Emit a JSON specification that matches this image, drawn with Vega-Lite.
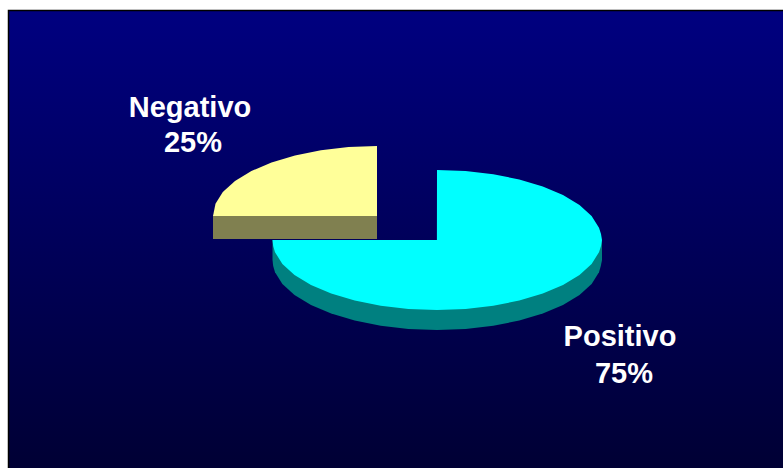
{
"$schema":"https://vega.github.io/schema/vega-lite/v6.json",
"width":783,"height":468,"padding":0,"autosize":{"type":"none"},
"background":"white",
"config":{"view":{"stroke":null}},
"layer":[
{"data":{"values":[{"x":8.5,"x2":790,"y":10.5,"y2":475}]},
 "mark":{"type":"rect","clip":true,"stroke":"#000000","strokeWidth":1.5,"fill":{"x1":0,"y1":0,"x2":0,"y2":1,"gradient":"linear","stops":[{"offset":0,"color":"#000080"},{"offset":1,"color":"#000033"}]}},
 "encoding":{
  "x":{"field":"x","type":"quantitative","scale":{"domain":[0,783]},"axis":null},
  "x2":{"field":"x2"},
  "y":{"field":"y","type":"quantitative","scale":{"domain":[468,0]},"axis":null},
  "y2":{"field":"y2"}}},
{"data":{"values":[
 {"slice":"Positivo lado","x":272.5,"t":240,"b":260},
 {"slice":"Positivo lado","x":273.2,"t":240,"b":266.1},
 {"slice":"Positivo lado","x":275,"t":240,"b":272.2},
 {"slice":"Positivo lado","x":282.4,"t":240,"b":283.9},
 {"slice":"Positivo lado","x":294.5,"t":240,"b":295},
 {"slice":"Positivo lado","x":311,"t":240,"b":305},
 {"slice":"Positivo lado","x":331.2,"t":240,"b":313.6},
 {"slice":"Positivo lado","x":354.7,"t":240,"b":320.6},
 {"slice":"Positivo lado","x":380.7,"t":240,"b":325.8},
 {"slice":"Positivo lado","x":408.4,"t":240,"b":329},
 {"slice":"Positivo lado","x":437,"t":240,"b":330},
 {"slice":"Positivo lado","x":465.6,"t":240,"b":329},
 {"slice":"Positivo lado","x":493.3,"t":240,"b":325.8},
 {"slice":"Positivo lado","x":519.3,"t":240,"b":320.6},
 {"slice":"Positivo lado","x":542.8,"t":240,"b":313.6},
 {"slice":"Positivo lado","x":563,"t":240,"b":305},
 {"slice":"Positivo lado","x":579.5,"t":240,"b":295},
 {"slice":"Positivo lado","x":591.6,"t":240,"b":283.9},
 {"slice":"Positivo lado","x":599,"t":240,"b":272.2},
 {"slice":"Positivo lado","x":600.8,"t":240,"b":266.1},
 {"slice":"Positivo lado","x":602,"t":240,"b":260},

 {"slice":"Positivo","x":272.5,"t":240,"b":240},
 {"slice":"Positivo","x":273.2,"t":240,"b":246.1},
 {"slice":"Positivo","x":275,"t":240,"b":252.2},
 {"slice":"Positivo","x":282.4,"t":240,"b":263.9},
 {"slice":"Positivo","x":294.5,"t":240,"b":275},
 {"slice":"Positivo","x":311,"t":240,"b":285},
 {"slice":"Positivo","x":331.2,"t":240,"b":293.6},
 {"slice":"Positivo","x":354.7,"t":240,"b":300.6},
 {"slice":"Positivo","x":380.7,"t":240,"b":305.8},
 {"slice":"Positivo","x":408.4,"t":240,"b":309},
 {"slice":"Positivo","x":436.9,"t":240,"b":310},
 {"slice":"Positivo","x":437,"t":170,"b":310},
 {"slice":"Positivo","x":465.6,"t":171,"b":309},
 {"slice":"Positivo","x":493.3,"t":174.2,"b":305.8},
 {"slice":"Positivo","x":519.3,"t":179.4,"b":300.6},
 {"slice":"Positivo","x":542.8,"t":186.4,"b":293.6},
 {"slice":"Positivo","x":563,"t":195,"b":285},
 {"slice":"Positivo","x":579.5,"t":205,"b":275},
 {"slice":"Positivo","x":591.6,"t":216.1,"b":263.9},
 {"slice":"Positivo","x":599,"t":227.8,"b":252.2},
 {"slice":"Positivo","x":601,"t":233.9,"b":246.1},
 {"slice":"Positivo","x":602,"t":240,"b":240},

 {"slice":"Negativo lado","x":213,"t":216,"b":239},
 {"slice":"Negativo lado","x":377,"t":216,"b":239},

 {"slice":"Negativo","x":213,"t":216,"b":216},
 {"slice":"Negativo","x":215.5,"t":203.8,"b":216},
 {"slice":"Negativo","x":222.8,"t":192.1,"b":216},
 {"slice":"Negativo","x":235,"t":181,"b":216},
 {"slice":"Negativo","x":251.4,"t":171,"b":216},
 {"slice":"Negativo","x":271.5,"t":162.4,"b":216},
 {"slice":"Negativo","x":295,"t":155.4,"b":216},
 {"slice":"Negativo","x":320.9,"t":150.2,"b":216},
 {"slice":"Negativo","x":348.5,"t":147,"b":216},
 {"slice":"Negativo","x":377,"t":146,"b":216}
]},
 "mark":{"type":"area","orient":"vertical"},
 "encoding":{
  "x":{"field":"x","type":"quantitative","scale":{"domain":[0,783]},"axis":null},
  "y":{"field":"t","type":"quantitative","stack":null,"scale":{"domain":[468,0]},"axis":null},
  "y2":{"field":"b"},
  "color":{"field":"slice","type":"nominal","legend":null,
   "scale":{"domain":["Positivo lado","Positivo","Negativo lado","Negativo"],"range":["#008080","#00FFFF","#808050","#FFFF99"]}}}},
{"data":{"values":[
 {"label":"Negativo","x":190,"y":108},
 {"label":"25%","x":193,"y":143},
 {"label":"Positivo","x":620,"y":337},
 {"label":"75%","x":624,"y":374}
]},
 "mark":{"type":"text","font":"Liberation Sans","fontWeight":"bold","fontSize":29,"color":"#FFFFFF","align":"center","baseline":"middle"},
 "encoding":{
  "x":{"field":"x","type":"quantitative","scale":{"domain":[0,783]},"axis":null},
  "y":{"field":"y","type":"quantitative","scale":{"domain":[468,0]},"axis":null},
  "text":{"field":"label","type":"nominal"}}}
]}
